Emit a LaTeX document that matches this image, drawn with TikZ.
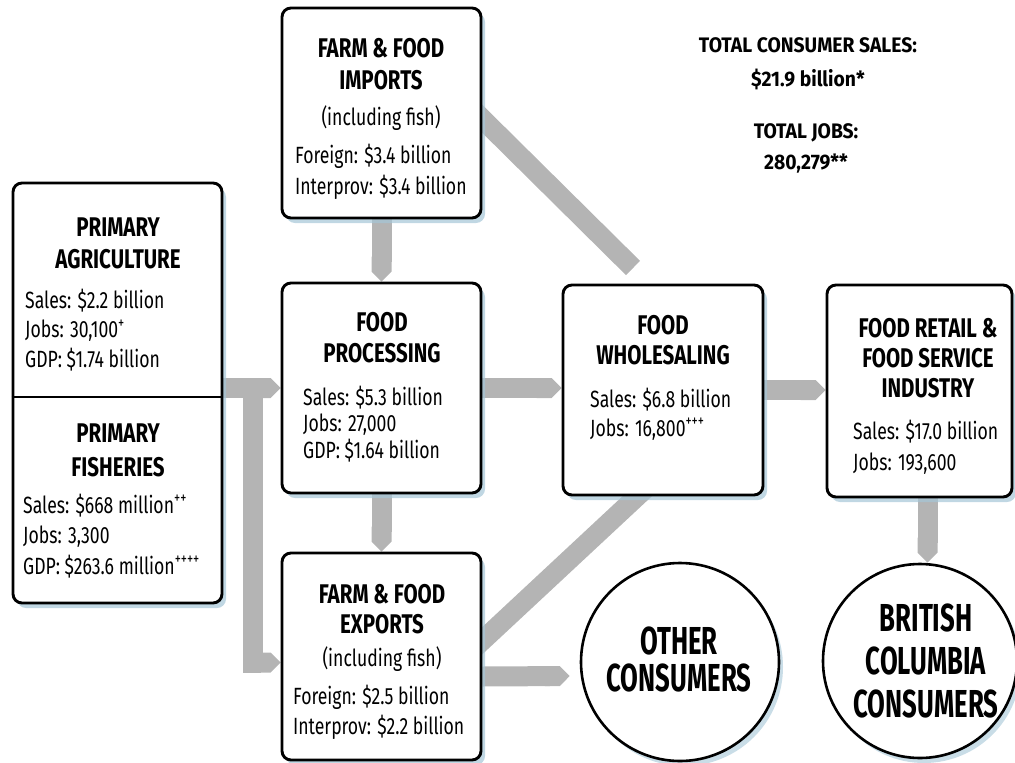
\documentclass[tikz,border=0pt]{standalone}
\usepackage{fontspec}
\setmainfont{Fira Sans}
\newfontfamily\bodyf{Fira Sans}[FakeStretch=0.75]
\newfontfamily\headf{Fira Sans}[FakeStretch=0.76]
\newfontfamily\circf{Fira Sans}[FakeStretch=0.66]
\newfontfamily\totf{Fira Sans}[FakeStretch=0.92]
\usetikzlibrary{arrows.meta,shadows,backgrounds,calc}
\definecolor{bandgray}{RGB}{180,180,180}
\definecolor{shadeblue}{RGB}{165,198,215}
\begin{document}
\begin{tikzpicture}[x=1pt,y=-1pt,
  box/.style={draw=black, line width=2.9pt, fill=white, rounded corners=9pt, inner sep=0pt,
    drop shadow={shadow xshift=4pt, shadow yshift=-5pt, fill=shadeblue, opacity=0.7}},
  disc/.style={circle, draw=black, line width=2.6pt, fill=white, inner sep=0pt,
    drop shadow={shadow xshift=4pt, shadow yshift=-5pt, fill=shadeblue, opacity=0.6}},
  head/.style={font=\headf\bfseries\fontsize{27}{31}\selectfont, align=center, inner sep=0pt, anchor=base},
  body/.style={font=\bodyf\fontsize{23.5}{29}\selectfont, align=left, inner sep=0pt, anchor=base west},
  sub/.style={font=\bodyf\fontsize{23.5}{29}\selectfont, inner sep=0pt, anchor=base},
  circtext/.style={font=\circf\bfseries\fontsize{39}{43}\selectfont, align=center, inner sep=0pt, anchor=base},
  tot/.style={font=\totf\bfseries\fontsize{21}{25}\selectfont, inner sep=0pt, anchor=base},
  flow/.style={draw=bandgray, line width=20pt, -{Triangle Cap}},
  plainband/.style={draw=bandgray, line width=20pt, line cap=butt}
]
\useasboundingbox (0,0) rectangle (1015,763);

% boxes
\node[box, minimum width=199pt, minimum height=210pt] (imp) at (381.5,113) {};
\node[box, minimum width=209pt, minimum height=420pt] (prim) at (117.5,393) {};
\node[box, minimum width=199pt, minimum height=210pt] (proc) at (381.5,388) {};
\node[box, minimum width=199pt, minimum height=207pt] (exp) at (381.5,656.5) {};
\node[box, minimum width=200pt, minimum height=210pt] (whl) at (663,390) {};
\node[box, minimum width=185pt, minimum height=212pt] (ret) at (919.5,391) {};
\node[disc, minimum size=198pt] (oth) at (680,662) {};
\node[disc, minimum size=194pt] (bc) at (920,661) {};

\coordinate (div) at (0,397);
\draw[line width=2.9pt] (prim.west |- div) -- (prim.east |- div);

% texts (base anchor = baseline of the last line)
\node[head, font=\headf\bfseries\fontsize{27}{32}\selectfont] (impH) at (381,89) {FARM \& FOOD\\IMPORTS};
\node[sub] (impS) at (381,125) {(including fish)};
\node[body, font=\bodyf\fontsize{23.5}{31}\selectfont] (impB) at (295,194) {Foreign: \$3.4 billion\\Interprov: \$3.4 billion};

\node[head, font=\headf\bfseries\fontsize{27}{32}\selectfont] (agrH) at (118,268) {PRIMARY\\AGRICULTURE};
\node[body, font=\bodyf\fontsize{23.5}{29.5}\selectfont] (agrB) at (25,367) {Sales: \$2.2 billion\\Jobs: 30,100\textsuperscript{+}\\GDP: \$1.74 billion};
\node[head, font=\headf\bfseries\fontsize{27}{34}\selectfont] (fisH) at (118,476) {PRIMARY\\FISHERIES};
\node[body, font=\bodyf\fontsize{23.5}{30.5}\selectfont] (fisB) at (23,574) {Sales: \$668 million\textsuperscript{++}\\Jobs: 3,300\\GDP: \$263.6 million\textsuperscript{++++}};

\node[head] (procH) at (382,362) {FOOD\\PROCESSING};
\node[body, font=\bodyf\fontsize{23.5}{26.5}\selectfont] (procB) at (303,458) {Sales: \$5.3 billion\\Jobs: 27,000\\GDP: \$1.64 billion};

\node[head, font=\headf\bfseries\fontsize{27}{30}\selectfont] (expH) at (382,633) {FARM \& FOOD\\EXPORTS};
\node[sub] (expS) at (382,666) {(including fish)};
\node[body, font=\bodyf\fontsize{23.5}{30}\selectfont] (expB) at (293,734) {Foreign: \$2.5 billion\\Interprov: \$2.2 billion};

\node[head, font=\headf\bfseries\fontsize{27}{30}\selectfont] (whlH) at (663,364) {FOOD\\WHOLESALING};
\node[body] (whlB) at (590,436) {Sales: \$6.8 billion\\Jobs: 16,800\textsuperscript{+++}};

\node[head, font=\headf\bfseries\fontsize{27}{30}\selectfont] (retH) at (928,397) {FOOD RETAIL \&\\FOOD SERVICE\\INDUSTRY};
\node[body, font=\bodyf\fontsize{23.5}{31}\selectfont] (retB) at (853,470) {Sales: \$17.0 billion\\Jobs: 193,600};

\node[circtext, font=\circf\bfseries\fontsize{39}{37}\selectfont] (othT) at (679,691) {OTHER\\CONSUMERS};
\node[circtext] (bcT) at (926,717) {BRITISH\\COLUMBIA\\CONSUMERS};

\node[tot] (t1) at (808,52) {TOTAL CONSUMER SALES:};
\node[tot] (t2) at (808,86) {\$21.9 billion*};
\node[tot] (t3) at (806,138) {TOTAL JOBS:};
\node[tot] (t4) at (806,169) {280,279**};

% connectors
\coordinate (br) at (253,390);
\coordinate (d1) at (633,268);
\begin{scope}[on background layer]
\draw[flow] (prim.east |- proc.west) -- (proc.west);
\draw[flow] (br) |- ($(exp.west)+(0,6)$);
\draw[flow] (imp.south) -- (proc.north);
\draw[flow] (proc.south) -- (exp.north);
\draw[flow] (proc.east) -- (proc.east -| whl.west);
\draw[flow] (whl.east) -- (whl.east -| ret.west);
\draw[flow] ([xshift=8pt]ret.south) -- ([xshift=8pt]ret.south |- bc.north);
\draw[flow] ($(exp.east)+(0,20)$) -- ($(oth.west)+(-10,14)$);
\draw[plainband, shorten <=-25pt] ($(imp.east)+(0,6)$) -- (d1);
\draw[plainband, shorten <=-25pt, shorten >=-25pt] ($(exp.east)+(0,-16)$) -- ($(whl.south)+(-26,0)$);
\end{scope}
\end{tikzpicture}
\end{document}
